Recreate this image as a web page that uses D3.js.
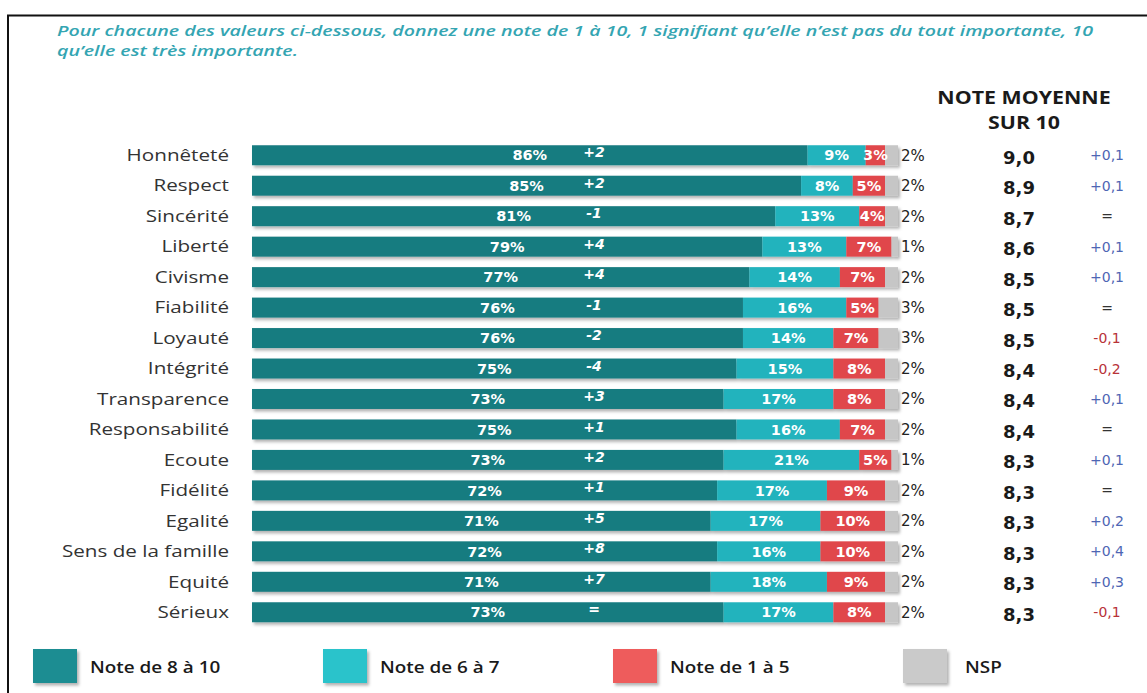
<!DOCTYPE html>
<html>
<head>
<meta charset="utf-8">
<script src="https://cdn.jsdelivr.net/npm/d3@7"></script>
<style>
  body { margin: 0; background: #fff; }
  svg { display: block; }
</style>
</head>
<body>
<svg id="chart" width="1147" height="693"></svg>
<script>
var titleLines = [
  "Pour chacune des valeurs ci-dessous, donnez une note de 1 à 10, 1 signifiant qu’elle n’est pas du tout importante, 10",
  "qu’elle est très importante."
];

var categories = ["Honnêteté", "Respect", "Sincérité", "Liberté", "Civisme", "Fiabilité", "Loyauté", "Intégrité",
  "Transparence", "Responsabilité", "Ecoute", "Fidélité", "Egalité", "Sens de la famille", "Equité", "Sérieux"];

var high   = [86, 85, 81, 79, 77, 76, 76, 75, 73, 75, 73, 72, 71, 72, 71, 73];
var mid    = [9, 8, 13, 13, 14, 16, 14, 15, 17, 16, 21, 17, 17, 16, 18, 17];
var low    = [3, 5, 4, 7, 7, 5, 7, 8, 8, 7, 5, 9, 10, 10, 9, 8];
var nsp    = [2, 2, 2, 1, 2, 3, 3, 2, 2, 2, 1, 2, 2, 2, 2, 2];
var deltas = ["+2", "+2", "-1", "+4", "+4", "-1", "-2", "-4", "+3", "+1", "+2", "+1", "+5", "+8", "+7", "="];
var means  = ["9,0", "8,9", "8,7", "8,6", "8,5", "8,5", "8,5", "8,4", "8,4", "8,4", "8,3", "8,3", "8,3", "8,3", "8,3", "8,3"];
var meanChanges = ["+0,1", "+0,1", "=", "+0,1", "+0,1", "=", "-0,1", "-0,2", "+0,1", "=", "+0,1", "=", "+0,2", "+0,4", "+0,3", "-0,1"];

var legendLabels = ["Note de 8 à 10", "Note de 6 à 7", "Note de 1 à 5", "NSP"];
var colors = ["#177b80", "#22b3bd", "#e0474c", "#c6c6c6"];
var legendColors = ["#1f8d92", "#2cc3cb", "#ee5b5b", "#cacaca"];

var svg = d3.select("#chart");

// the source picture is a bit wider than its fonts: stretch text to match
function stretch(sel, f) {
  sel.each(function() {
    var w = this.getComputedTextLength();
    d3.select(this).attr("textLength", w * f).attr("lengthAdjust", "spacingAndGlyphs");
  });
}

var defs = svg.append("defs");
defs.append("filter")
    .attr("id", "shadow")
    .attr("x", "-5%").attr("y", "-30%").attr("width", "115%").attr("height", "180%")
  .append("feDropShadow")
    .attr("dx", 2).attr("dy", 2.5)
    .attr("stdDeviation", 1.5)
    .attr("flood-color", "#000")
    .attr("flood-opacity", 0.3);

// frame
svg.append("path")
    .attr("d", "M8,693 L8,15.5 L1147,15.5")
    .attr("fill", "none")
    .attr("stroke", "#111")
    .attr("stroke-width", 2);

// title
var title = svg.append("g").selectAll("text")
  .data(titleLines)
  .enter().append("text")
    .attr("x", 57)
    .attr("y", function(d, i) { return 36 + i * 20; })
    .attr("font-family", "Open Sans")
    .attr("font-style", "italic")
    .attr("font-weight", 600)
    .attr("font-size", 15)
    .attr("fill", "#34a5b2")
    .text(function(d) { return d; });
var titleW = title.node().getComputedTextLength();
stretch(title, 1036 / titleW);

var x = d3.scaleLinear()
    .domain([0, 100])
    .range([252, 898]);

var y = d3.scaleBand()
    .domain(categories)
    .range([140, 627.5])
    .paddingInner(0.344)
    .paddingOuter(0.172);

var rows = categories.map(function(c, i) {
  return {cat: c, vals: [high[i], mid[i], low[i], nsp[i]], delta: deltas[i], mean: means[i], change: meanChanges[i]};
});

// category labels
svg.append("g").selectAll("text")
  .data(rows)
  .enter().append("text")
    .attr("x", 229)
    .attr("y", function(d) { return y(d.cat) + y.bandwidth() / 2; })
    .attr("dy", "0.35em")
    .attr("text-anchor", "end")
    .attr("font-family", "Open Sans")
    .attr("font-size", 16.5)
    .attr("fill", "#333")
    .text(function(d) { return d.cat; })
    .call(stretch, 1.25);

var row = svg.append("g").selectAll("g")
  .data(rows)
  .enter().append("g")
    .attr("transform", function(d) { return "translate(0," + y(d.cat) + ")"; });

function segs(d) {
  var acc = 0;
  return d.vals.map(function(v, k) {
    var s = {k: k, v: v, x0: acc, x1: acc + v};
    acc += v;
    return s;
  });
}

row.append("g")
    .attr("filter", "url(#shadow)")
  .selectAll("rect")
  .data(segs)
  .enter().append("rect")
    .attr("x", function(s) { return x(s.x0); })
    .attr("width", function(s) { return x(s.x1) - x(s.x0); })
    .attr("height", y.bandwidth())
    .attr("fill", function(s) { return colors[s.k]; });

// values inside the bars
row.selectAll("text.val")
  .data(function(d) { return segs(d).slice(0, 3); })
  .enter().append("text")
    .attr("class", "val")
    .attr("x", function(s) { return (x(s.x0) + x(s.x1)) / 2; })
    .attr("y", y.bandwidth() / 2)
    .attr("dy", "0.36em")
    .attr("text-anchor", "middle")
    .attr("font-family", "DejaVu Sans")
    .attr("font-weight", "bold")
    .attr("font-size", 14.5)
    .attr("fill", "#fff")
    .text(function(s) { return s.v + "%"; });

// NSP value outside
row.append("text")
    .attr("x", function(d) { return x(100) + 3; })
    .attr("y", y.bandwidth() / 2)
    .attr("dy", "0.36em")
    .attr("font-family", "DejaVu Sans")
    .attr("font-size", 15)
    .attr("fill", "#222")
    .text(function(d) { return d.vals[3] + "%"; });

// evolution in points
row.append("text")
    .attr("x", 594)
    .attr("y", y.bandwidth() / 2 - 3)
    .attr("dy", "0.36em")
    .attr("text-anchor", "middle")
    .attr("font-family", "DejaVu Sans")
    .attr("font-weight", "bold")
    .attr("font-style", "italic")
    .attr("font-size", 14)
    .attr("fill", "#fff")
    .text(function(d) { return d.delta; });

// mean score column
svg.append("g").selectAll("text")
  .data(["NOTE MOYENNE", "SUR 10"])
  .enter().append("text")
    .attr("x", 1024)
    .attr("y", function(d, i) { return 98 + i * 25; })
    .attr("dy", "0.35em")
    .attr("text-anchor", "middle")
    .attr("font-family", "Open Sans")
    .attr("font-weight", "bold")
    .attr("font-size", 17.5)
    .attr("fill", "#1a1a1a")
    .text(function(d) { return d; })
    .call(stretch, 1.22);

row.append("text")
    .attr("x", 1019)
    .attr("y", y.bandwidth() / 2 + 2)
    .attr("dy", "0.36em")
    .attr("text-anchor", "middle")
    .attr("font-family", "DejaVu Sans")
    .attr("font-weight", "bold")
    .attr("font-size", 18)
    .attr("fill", "#1a1a1a")
    .text(function(d) { return d.mean; });

row.append("text")
    .attr("x", 1107)
    .attr("y", y.bandwidth() / 2)
    .attr("dy", "0.36em")
    .attr("text-anchor", "middle")
    .attr("font-family", "DejaVu Sans")
    .attr("font-size", 14)
    .attr("fill", function(d) {
      if (d.change.charAt(0) === "+") return "#4e66b4";
      if (d.change.charAt(0) === "-") return "#b83238";
      return "#333";
    })
    .text(function(d) { return d.change; });

// legend
var lx = d3.scalePoint()
    .domain(legendLabels)
    .range([33, 903]);

var leg = svg.append("g").selectAll("g")
  .data(legendLabels)
  .enter().append("g")
    .attr("transform", function(d) { return "translate(" + lx(d) + ",649)"; });

leg.append("rect")
    .attr("width", 44)
    .attr("height", 34)
    .attr("filter", "url(#shadow)")
    .attr("fill", function(d, i) { return legendColors[i]; });

leg.append("text")
    .attr("x", function(d, i) { return i === 3 ? 62 : 57; })
    .attr("y", 18)
    .attr("dy", "0.35em")
    .attr("font-family", "Open Sans")
    .attr("font-weight", 600)
    .attr("font-size", 16)
    .attr("fill", "#1a1a1a")
    .text(function(d) { return d; })
    .call(stretch, 1.18);
</script>
</body>
</html>
